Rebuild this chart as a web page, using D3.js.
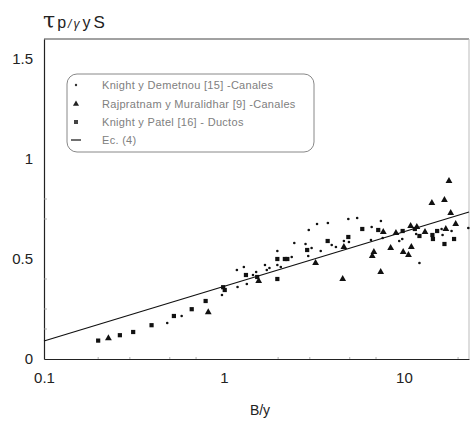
<!DOCTYPE html>
<html>
<head>
<meta charset="utf-8">
<script src="https://cdn.jsdelivr.net/npm/d3@7"></script>
<style>
  html, body { margin: 0; padding: 0; background: #fff; }
  svg { display: block; }
</style>
</head>
<body>
<svg id="chart" width="471" height="422"></svg>
<script>
// ---- Data ----
const xTicks = [0.1, 1, 10];
const xTickLabels = ["0.1", "1", "10"];
const yTicks = [0, 0.5, 1, 1.5];
const yTickLabels = ["0", "0.5", "1", "1.5"];

// Knight y Demetriou [15] - Canales (dots)
const demetriouX = [0.484, 0.582, 0.975, 1.19, 1.18, 1.29, 1.34, 1.45, 1.51, 1.69, 1.73, 1.79, 1.98, 1.98, 2.07, 2.38, 2.46, 2.84, 2.96, 3.07, 2.94, 3.29, 3.45, 3.78, 3.97, 4.19, 4.64, 4.91, 4.95, 5.5, 6.56, 6.62, 7.45, 7.62, 9.42, 9.79, 11.7, 12.2, 16.2, 16.4, 18.4, 22.8];
const demetriouY = [0.18, 0.215, 0.32, 0.36, 0.445, 0.46, 0.375, 0.42, 0.435, 0.47, 0.445, 0.455, 0.54, 0.47, 0.46, 0.51, 0.58, 0.575, 0.645, 0.555, 0.515, 0.675, 0.54, 0.68, 0.57, 0.56, 0.59, 0.70, 0.585, 0.705, 0.595, 0.66, 0.69, 0.605, 0.59, 0.60, 0.625, 0.48, 0.65, 0.62, 0.64, 0.655];

// Rajaratnam y Muralidhar [9] - Canales (triangles)
const rajX = [0.228, 0.818, 1.56, 3.23, 4.57, 4.64, 6.67, 6.81, 7.43, 7.68, 8.44, 9.03, 9.91, 10.6, 11.0, 10.9, 11.8, 13.1, 14.3, 16.8, 17.8, 18.2, 17.1, 19.4];
const rajY = [0.104, 0.234, 0.39, 0.48, 0.40, 0.56, 0.515, 0.535, 0.435, 0.635, 0.555, 0.63, 0.535, 0.52, 0.56, 0.665, 0.66, 0.635, 0.78, 0.795, 0.89, 0.73, 0.65, 0.675];

// Knight y Patel [16] - Ductos (squares)
const patelX = [0.200, 0.264, 0.313, 0.396, 0.527, 0.662, 0.791, 0.99, 1.01, 1.325, 1.53, 1.98, 1.98, 2.18, 2.25, 2.90, 3.77, 4.91, 5.87, 7.2, 9.84, 11.5, 12.2, 14.4, 14.5, 15.3, 16.8, 19.0];
const patelY = [0.092, 0.119, 0.135, 0.169, 0.215, 0.249, 0.29, 0.359, 0.345, 0.42, 0.41, 0.50, 0.40, 0.50, 0.50, 0.545, 0.59, 0.61, 0.65, 0.645, 0.64, 0.65, 0.615, 0.62, 0.60, 0.64, 0.575, 0.60];

// Ec. (4)
const eqX = [0.1, 23];
const eqY = [0.09, 0.735];

const legendLabels = ["Knight y Demetnou [15] -Canales", "Rajpratnam y Muralidhar [9] -Canales", "Knight y Patel [16] - Ductos", "Ec. (4)"];

// ---- Layout ----
const svg = d3.select("#chart");
const mLeft = 44, mRight = 469, mTop = 39, mBottom = 359;
const x = d3.scaleLog().domain([0.1, 23]).range([mLeft, mRight]);
const y = d3.scaleLinear().domain([0, 1.6]).range([mBottom, mTop]);

// frame
svg.append("line").attr("x1", mLeft).attr("x2", mRight).attr("y1", mTop).attr("y2", mTop)
  .attr("stroke", "#444").attr("stroke-width", 1);
svg.append("line").attr("x1", mRight).attr("x2", mRight).attr("y1", mTop).attr("y2", mBottom)
  .attr("stroke", "#bbb").attr("stroke-width", 1);

// axes
const xAxis = d3.axisBottom(x).tickValues(xTicks).tickFormat((d, i) => xTickLabels[i]).tickSize(0).tickPadding(13);
const gx = svg.append("g").attr("transform", `translate(0,${mBottom})`).call(xAxis);
gx.select(".domain").attr("stroke", "#222").attr("stroke-width", 1.2);
gx.selectAll("text").attr("font-family", "Liberation Sans, Arial, sans-serif").attr("font-size", 15).attr("fill", "#222");

const yAxis = d3.axisLeft(y).tickValues(yTicks).tickFormat((d, i) => yTickLabels[i]).tickSize(0).tickPadding(11);
const gy = svg.append("g").attr("transform", `translate(${mLeft},0)`).call(yAxis);
gy.select(".domain").attr("stroke", "#222").attr("stroke-width", 1.2);
gy.selectAll("text").attr("font-family", "Liberation Sans, Arial, sans-serif").attr("font-size", 15).attr("fill", "#222");

// small inner ticks
const minorY = [0.15, 0.25, 0.4, 0.7, 0.8];
svg.selectAll(".my").data(minorY).enter().append("line")
  .attr("x1", mLeft).attr("x2", mLeft + 3).attr("y1", d => y(d)).attr("y2", d => y(d))
  .attr("stroke", "#999").attr("stroke-width", 0.8);
const minorX = [0.2, 0.3, 0.5, 0.7, 2, 3, 5, 7, 20];
svg.selectAll(".mx").data(minorX).enter().append("line")
  .attr("x1", d => x(d)).attr("x2", d => x(d)).attr("y1", mBottom).attr("y2", mBottom - 2)
  .attr("stroke", "#999").attr("stroke-width", 0.8);

// equation line
const eqData = eqX.map((v, i) => [v, eqY[i]]);
svg.append("path").datum(eqData)
  .attr("d", d3.line().x(d => x(d[0])).y(d => y(d[1])))
  .attr("fill", "none").attr("stroke", "#111").attr("stroke-width", 1.3);

// scatter
const dots = demetriouX.map((v, i) => [v, demetriouY[i]]);
const tris = rajX.map((v, i) => [v, rajY[i]]);
const sqs = patelX.map((v, i) => [v, patelY[i]]);

svg.selectAll(".dot").data(dots).enter().append("circle")
  .attr("cx", d => x(d[0])).attr("cy", d => y(d[1])).attr("r", 1.3).attr("fill", "#111");

const triSym = d3.symbol().type(d3.symbolTriangle).size(20);
svg.selectAll(".tri").data(tris).enter().append("path")
  .attr("d", triSym).attr("transform", d => `translate(${x(d[0])},${y(d[1])})`).attr("fill", "#111");

svg.selectAll(".sq").data(sqs).enter().append("rect")
  .attr("x", d => x(d[0]) - 2.1).attr("y", d => y(d[1]) - 2.1).attr("width", 4.2).attr("height", 4.2).attr("fill", "#111");

// legend
const lg = svg.append("g");
lg.append("rect").attr("x", 67).attr("y", 74).attr("width", 247).attr("height", 78).attr("rx", 10)
  .attr("fill", "#fff").attr("stroke", "#888").attr("stroke-width", 1);
const rows = [85, 104, 122, 140];
lg.append("circle").attr("cx", 76).attr("cy", rows[0]).attr("r", 1.2).attr("fill", "#333");
lg.append("path").attr("d", d3.symbol().type(d3.symbolTriangle).size(16)).attr("transform", `translate(76,${rows[1]})`).attr("fill", "#222");
lg.append("rect").attr("x", 74).attr("y", rows[2] - 2).attr("width", 4).attr("height", 4).attr("fill", "#444");
lg.append("line").attr("x1", 71).attr("x2", 81).attr("y1", rows[3]).attr("y2", rows[3]).attr("stroke", "#222").attr("stroke-width", 1.3);
lg.selectAll(".lt").data(legendLabels).enter().append("text")
  .attr("x", 102).attr("y", (d, i) => rows[i] + 4)
  .attr("font-family", "Liberation Sans, Arial, sans-serif").attr("font-size", 11).attr("letter-spacing", 0.3).attr("fill", "#808080")
  .text(d => d);

// axis titles
svg.append("text").attr("x", 260).attr("y", 415).attr("text-anchor", "middle")
  .attr("font-family", "Liberation Sans, Arial, sans-serif").attr("font-size", 14).attr("fill", "#222").text("B/y");

const t = svg.append("text").attr("x", 43).attr("y", 28).attr("fill", "#222")
  .attr("font-family", "Liberation Sans, Arial, sans-serif");
t.append("tspan").attr("font-family", "DejaVu Serif, serif").attr("font-size", 22).text("τ");
t.append("tspan").attr("font-size", 16).attr("dx", 2).text("p");
t.append("tspan").attr("font-size", 12).attr("dx", 2).attr("font-style", "italic").text("/");
t.append("tspan").attr("font-size", 12).attr("dx", 2).attr("font-style", "italic").text("γ");
t.append("tspan").attr("font-size", 16).attr("dx", 3).text("y");
t.append("tspan").attr("font-size", 17).attr("dx", 3).text("S");
</script>
</body>
</html>
